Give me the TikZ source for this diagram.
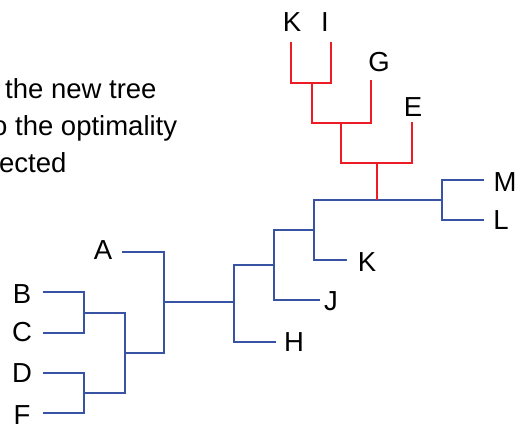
\documentclass[tikz,border=0pt]{standalone}
\usepackage{fontspec}
\setmainfont{Liberation Sans}
\definecolor{treeblue}{RGB}{56,83,164}
\definecolor{treered}{RGB}{237,28,36}
\begin{document}
\begin{tikzpicture}[x=1pt,y=-1pt,
  lbl/.style={inner sep=0pt,font=\fontsize{27.5}{30}\selectfont},
  txt/.style={inner sep=0pt,anchor=base west,font=\fontsize{27.5}{30}\selectfont},
  bl/.style={draw=treeblue,line width=2.9pt},
  rd/.style={draw=treered,line width=2.9pt}]
\useasboundingbox (0,0) rectangle (519,423);
\clip (0,0) rectangle (519,423);
% text (clipped at left)
\node[txt] (t1) at (5,98) {the new tree};
\node[txt] (t2) at (-8,135) {o the optimality};
\node[txt] (t3) at (-1,172) {ected};
% labels
\node[lbl] (lA) at (103,250) {A};
\node[lbl] (lB) at (22,294) {B};
\node[lbl] (lC) at (22,332) {C};
\node[lbl] (lD) at (22,373) {D};
\node[lbl] (lF) at (22,415) {F};
\node[lbl] (lH) at (294,342) {H};
\node[lbl] (lJ) at (331,301) {J};
\node[lbl] (lK) at (367,262) {K};
\node[lbl] (lM) at (505,182) {M};
\node[lbl] (lL) at (501,220) {L};
\node[lbl] (lE) at (413,107) {E};
\node[lbl] (lG) at (379,62) {G};
\node[lbl] (lK2) at (292,22) {K};
\node[lbl] (lI) at (325,22) {I};
% leaf ends
\coordinate (eA) at (122,252);
\coordinate (eB) at (43,292);
\coordinate (eC) at (43,333);
\coordinate (eD) at (43,373);
\coordinate (eF) at (43,413);
\coordinate (eH) at (276,342);
\coordinate (eJ) at (320,300);
\coordinate (eK) at (347,260);
\coordinate (eM) at (484,180);
\coordinate (eL) at (484,220);
\coordinate (eE) at (412,122);
\coordinate (eG) at (371,80);
\coordinate (eK2) at (291,42);
\coordinate (eI) at (331,42);
% internal nodes
\coordinate (nBC) at (84,313);
\coordinate (nDF) at (84,393);
\coordinate (nBCDF) at (125,353);
\coordinate (nA) at (164,302);
\coordinate (nH) at (234,302);
\coordinate (nJ) at (274,265);
\coordinate (nK) at (314,230);
\coordinate (nML) at (442,200);
\coordinate (nR) at (377,200);
\coordinate (nE) at (377,163);
\coordinate (nG) at (341,123);
\coordinate (nKI) at (312,83);
% blue tree
\draw[bl] (eB) -| (nBC) |- (eC);
\draw[bl] (eD) -| (nDF) |- (eF);
\draw[bl] (nBC) -| (nBCDF) |- (nDF);
\draw[bl] (eA) -| (nA) |- (nBCDF);
\draw[bl] (nA) -- (nH);
\draw[bl] (nJ) -| (nH) |- (eH);
\draw[bl] (nK) -| (nJ) |- (eJ);
\draw[bl] (nML) -| (nK) |- (eK);
\draw[bl] (eM) -| (nML) |- (eL);
% red tree
\draw[rd] (nR) -- (nE);
\draw[rd] (nG) |- (nE) -| (eE);
\draw[rd] (nKI) |- (nG) -| (eG);
\draw[rd] (eK2) |- (nKI) -| (eI);
\end{tikzpicture}
\end{document}
